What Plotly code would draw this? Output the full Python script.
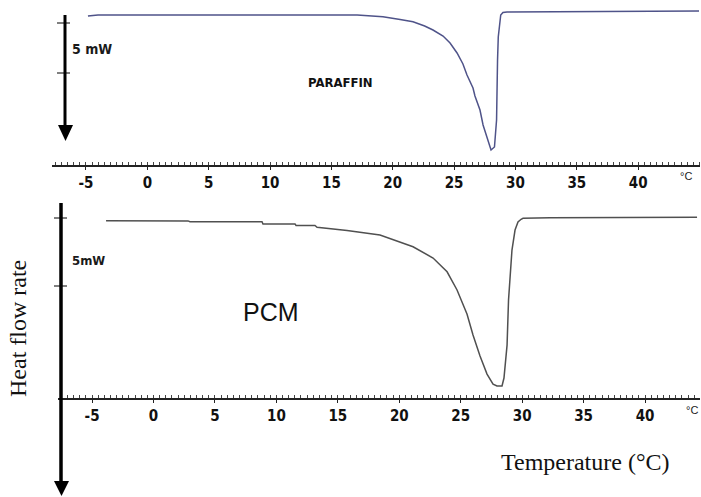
import plotly.graph_objects as go

W, H = 701, 497

# ---- data: temperature (°C) and heat flow (mW, relative to baseline) ----
paraffin_temp = [-4.84, -4.02, 17.1, 19.2, 20.6, 21.65, 22.6, 23.28, 24.1, 24.67,
                 25.24, 25.72, 26.05, 26.54, 26.7, 27.11, 27.36, 27.76, 28.01, 28.29,
                 28.46, 28.54, 28.6, 28.8, 28.98, 29.31, 32.8, 44.96]
paraffin_flow = [-0.1, 0.0, 0.0, -0.17, -0.45, -0.67, -1.1, -1.5, -2.1, -2.8,
                 -3.8, -4.9, -6.0, -7.3, -8.1, -9.5, -11.0, -12.5, -13.5, -13.2,
                 -10.5, -4.5, -2.2, 0.0, 0.25, 0.3, 0.33, 0.4]

pcm_temp = [-3.86, 2.81, 2.97, 8.83, 8.91, 11.52, 11.6, 13.14, 13.31, 14.61,
            15.75, 18.43, 20.06, 21.12, 22.75, 23.89, 24.7, 25.51, 26.0, 26.57,
            27.14, 27.63, 27.95, 28.36, 28.52, 28.77, 28.89, 29.05, 29.17, 29.42,
            29.66, 29.91, 30.07, 32.27, 44.23]
pcm_flow = [0.02, 0.01, -0.05, -0.05, -0.22, -0.22, -0.32, -0.33, -0.46, -0.59,
            -0.70, -1.03, -1.52, -1.89, -2.72, -3.73, -5.07, -6.84, -8.38, -9.93,
            -11.25, -11.99, -12.13, -12.13, -11.54, -9.12, -5.81, -3.24, -2.13, -0.66,
            -0.07, 0.13, 0.20, 0.24, 0.27]

tick_values = [-5, 0, 5, 10, 15, 20, 25, 30, 35, 40]
tick_labels = ["-5", "0", "5", "10", "15", "20", "25", "30", "35", "40"]


def px(x):
    return x / W


def py(y):
    return 1 - y / H


fig = go.Figure()
fig.add_trace(go.Scatter(x=paraffin_temp, y=paraffin_flow, mode="lines",
                         line=dict(color="#4f5389", width=1.5),
                         xaxis="x", yaxis="y", showlegend=False))
fig.add_trace(go.Scatter(x=pcm_temp, y=pcm_flow, mode="lines",
                         line=dict(color="#505050", width=1.5),
                         xaxis="x2", yaxis="y2", showlegend=False))

tickfont = dict(family="Liberation Sans Narrow, DejaVu Sans Condensed, Arial Narrow, sans-serif",
                size=15, color="#111111", weight="bold")

axis_common = dict(
    showline=True, linecolor="#222222", linewidth=1.5,
    showgrid=False, zeroline=False,
    tickmode="array", tickvals=tick_values, ticktext=tick_labels,
    ticks="outside", ticklen=3, tickwidth=1, tickcolor="#222222",
    minor=dict(ticks="inside", ticklen=3, dtick=0.5, tick0=0, tickcolor="#444444", tickwidth=1),
    tickfont=tickfont, fixedrange=True,
)

fig.update_layout(
    width=W, height=H,
    margin=dict(l=0, r=0, t=0, b=0),
    paper_bgcolor="white", plot_bgcolor="white",
    xaxis=dict(domain=[px(52), px(700)], range=[-7.77, 45.04], anchor="y", **axis_common),
    yaxis=dict(domain=[py(165), 1], range=[-15.0, 1.5], visible=False, fixedrange=True),
    xaxis2=dict(domain=[px(58), px(700)], range=[-7.77, 44.47], anchor="y2", **axis_common),
    yaxis2=dict(domain=[py(398), py(185)], range=[-13.01, 2.65], visible=False, fixedrange=True),
)

shapes = []
# top scale arrow
shapes.append(dict(type="line", xref="paper", yref="paper",
                   x0=px(65), x1=px(65), y0=py(15), y1=py(128),
                   line=dict(color="black", width=3)))
shapes.append(dict(type="path", xref="paper", yref="paper",
                   path=f"M {px(58)},{py(125)} L {px(73)},{py(125)} L {px(65.5)},{py(141)} Z",
                   fillcolor="black", line=dict(color="black", width=0)))
for yy in (23, 73):
    shapes.append(dict(type="line", xref="paper", yref="paper",
                       x0=px(57), x1=px(70), y0=py(yy), y1=py(yy),
                       line=dict(color="black", width=1)))
# bottom scale arrow
shapes.append(dict(type="line", xref="paper", yref="paper",
                   x0=px(61), x1=px(61), y0=py(203), y1=py(484),
                   line=dict(color="black", width=3.5)))
shapes.append(dict(type="path", xref="paper", yref="paper",
                   path=f"M {px(54)},{py(481)} L {px(69)},{py(481)} L {px(61.5)},{py(496)} Z",
                   fillcolor="black", line=dict(color="black", width=0)))
for yy in (218, 286):
    shapes.append(dict(type="line", xref="paper", yref="paper",
                       x0=px(54), x1=px(67), y0=py(yy), y1=py(yy),
                       line=dict(color="black", width=1)))
fig.update_layout(shapes=shapes)

bold_narrow = "Liberation Sans Narrow, DejaVu Sans Condensed, Arial Narrow, sans-serif"
annotations = [
    dict(text="5 mW", x=px(92), y=py(49), font=dict(family=bold_narrow, size=14, color="#1a1a1a", weight="bold")),
    dict(text="5mW", x=px(88), y=py(260), font=dict(family=bold_narrow, size=13, color="#1a1a1a", weight="bold")),
    dict(text="PARAFFIN", x=px(340), y=py(83), font=dict(family=bold_narrow, size=13, color="#111111", weight="bold")),
    dict(text="PCM", x=px(271), y=py(312), font=dict(family="Liberation Sans, Arial, sans-serif", size=25, color="#111111")),
    dict(text="°C", x=px(686), y=py(176), font=dict(family="Liberation Sans, Arial, sans-serif", size=11, color="#222222")),
    dict(text="°C", x=px(692), y=py(410), font=dict(family="Liberation Sans, Arial, sans-serif", size=11, color="#222222")),
    dict(text="Temperature (°C)", x=px(585), y=py(462), font=dict(family="Liberation Serif, Times New Roman, serif", size=24, color="#111111")),
    dict(text="Heat flow rate", x=px(18), y=py(329), textangle=-90, font=dict(family="Liberation Serif, Times New Roman, serif", size=24, color="#111111")),
]
for a in annotations:
    a.update(xref="paper", yref="paper", showarrow=False, xanchor="center", yanchor="middle")
fig.update_layout(annotations=annotations)

fig.write_html("out.html",
               config={"displayModeBar": False},
               post_script="document.body.style.margin='0px';document.body.style.padding='0px';document.body.style.overflow='hidden';")
